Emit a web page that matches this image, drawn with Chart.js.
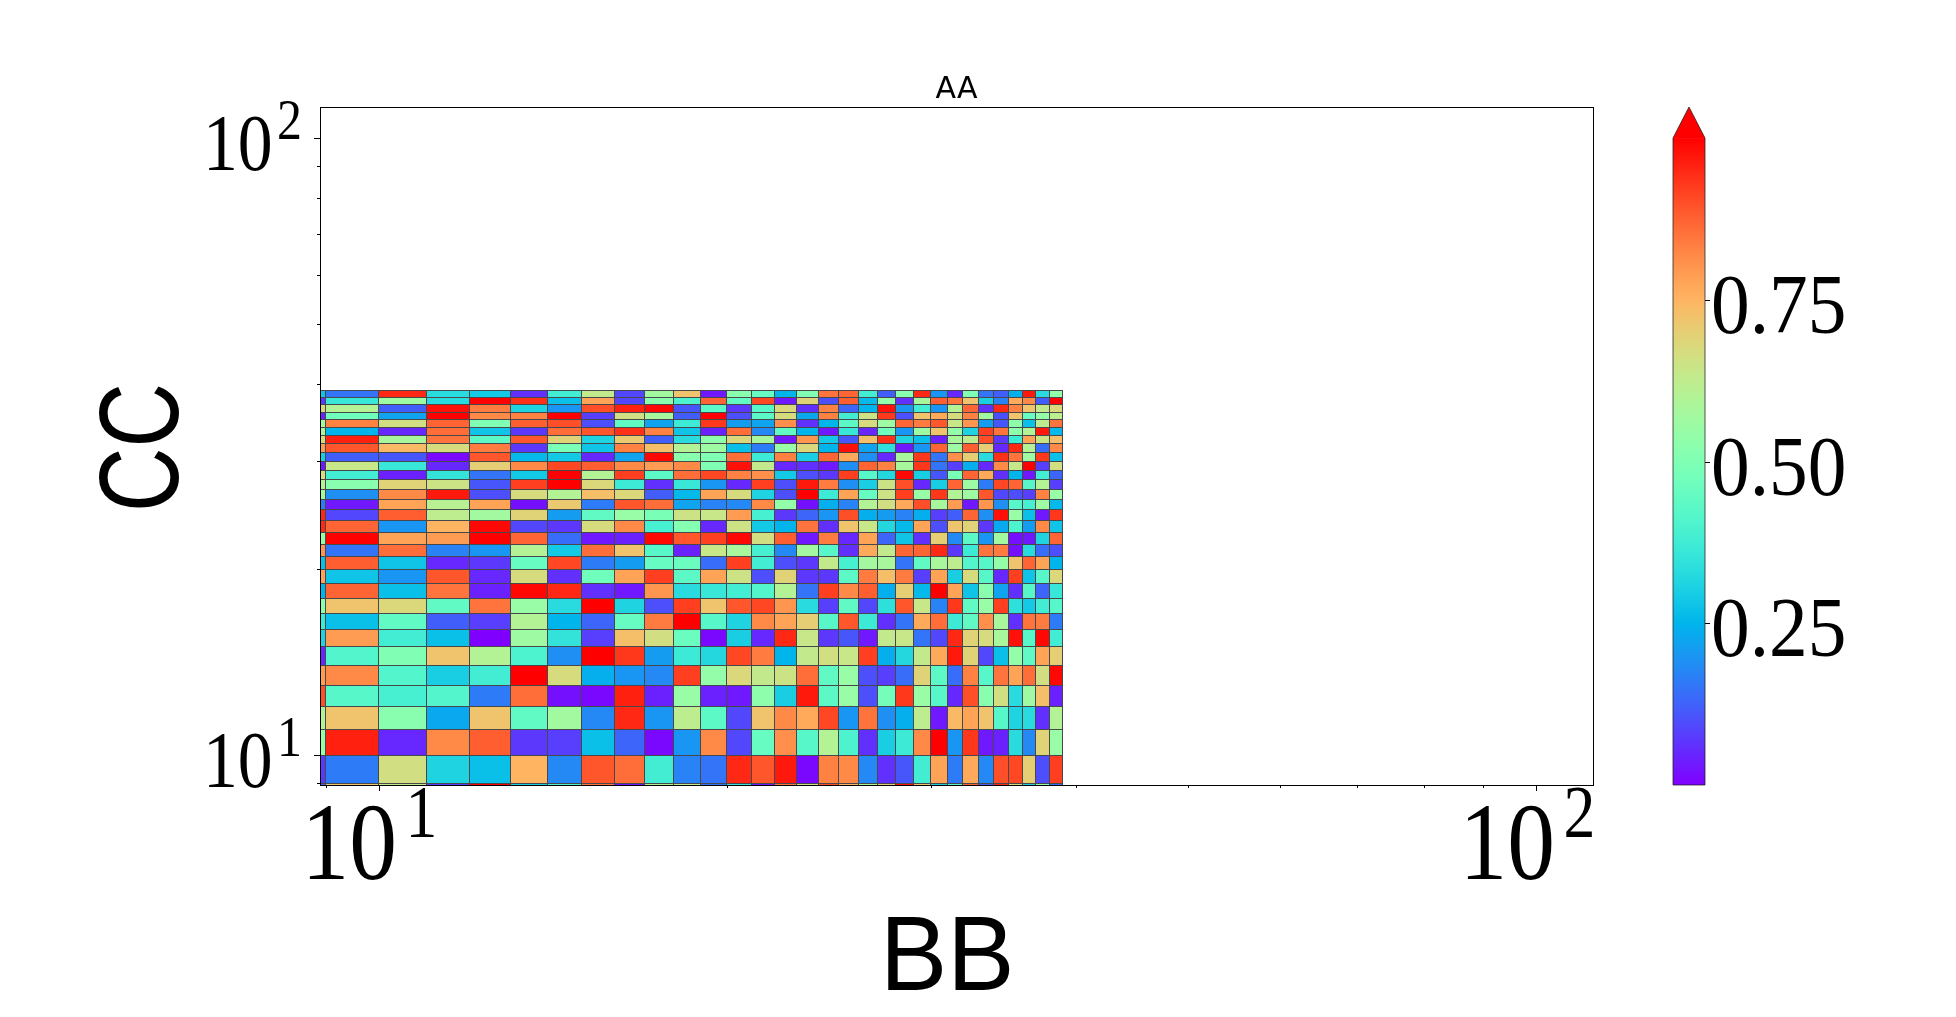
<!DOCTYPE html>
<html>
<head>
<meta charset="utf-8">
<title>AA</title>
<script src="https://cdn.jsdelivr.net/npm/chart.js@4/dist/chart.umd.min.js"></script>
<style>
    html, body { margin: 0; padding: 0; background: #fff; }
    canvas { display: block; }
</style>
</head>
<body>
<canvas id="chart" width="1956" height="1017"></canvas>
<script>
// cell edges, the same integer grid on both axes
const xEdges = [8,9,10,11,12,13,14,15,16,17,18,19,20,21,22,23,24,25,26,27,28,29,30,31,32,33,34,35,36,37,38,39];
const yEdges = [8,9,10,11,12,13,14,15,16,17,18,19,20,21,22,23,24,25,26,27,28,29,30,31,32,33,34,35,36,37,38,39];

// one row per y cell, bottom row first
const cellValues = [
    [.12,.72,.62,.08,1.0,.30,.40,.85,.03,.60,.62,.15,.35,.03,.85,.65,.90,.75,.58,.70,.98,.72,.30,.42,.87,.12,.95,.68,.30,.55,.14],
    [.07,.16,.66,.31,.27,.75,.18,.89,.86,.38,.17,.15,.95,.89,.97,.01,.83,.82,.18,.06,.11,.38,.78,.16,.77,.18,.90,.91,.70,.10,.92],
    [.55,.96,.05,.82,.88,.07,.08,.27,.13,.01,.20,.82,.09,.45,.81,.42,.60,.40,.06,.30,.37,.82,1.0,.20,.93,.03,.04,.33,.18,.69,.55],
    [.60,.72,.52,.23,.72,.44,.57,.18,.95,.20,.62,.43,.09,.72,.82,.77,.91,.20,.85,.19,.24,.62,.03,.74,.78,.72,.42,.31,.33,.06,.60],
    [.90,.42,.39,.41,.16,.86,.02,.01,.96,.04,.55,.04,.03,.53,.30,.97,.43,.55,.10,.48,.93,.55,.42,.05,.90,.52,.66,.33,.56,.73,.04],
    [.79,.82,.41,.30,.38,1.0,.67,.24,.20,.18,.92,.54,.68,.63,.65,.86,.44,.55,.10,.08,.14,.69,.43,.14,.83,.42,.85,.78,.86,.66,.99],
    [.05,.41,.50,.72,.60,.40,.19,1.0,.93,.21,.37,.32,.91,.84,.25,.63,.66,.64,.92,.24,.32,.63,.77,.97,.69,.09,.27,.54,.44,.78,.70],
    [.31,.79,.38,.27,.00,.56,.35,.08,.73,.66,.46,.01,.30,.05,.95,.64,.07,.11,.03,.63,.64,.15,.09,.95,.69,.67,.58,.98,.42,.99,.38],
    [.37,.27,.44,.12,.08,.60,.25,.13,.45,.84,1.0,.42,.31,.82,.78,.70,.42,.89,.37,.06,.15,.77,.86,.37,.44,.81,.58,.06,.85,.84,.16],
    [.53,.72,.68,.44,.85,.55,.33,1.0,.31,.10,.92,.72,.89,.91,.80,.33,.08,.44,.09,.34,.89,.64,.17,.93,.44,.55,.92,.34,.29,.38,.42],
    [.25,.87,.27,.85,.04,.99,.95,.06,.03,.80,.33,.36,.38,.41,.60,.15,.92,.82,.88,.24,.70,.26,1.0,.78,.28,.52,.22,.06,.42,.13,.36],
    [.78,.28,.20,.89,.05,.67,.06,.47,.78,.92,.43,.78,.65,.10,.69,.07,.07,.43,.84,.73,.84,.08,.78,.30,.67,.42,.05,.92,.28,.42,.68],
    [.27,.88,.28,.05,.07,.45,.91,.16,.21,.45,.46,.14,.92,.38,.10,.07,.63,.39,.57,.58,.15,.44,.58,.62,.41,.42,.54,.72,.87,.78,.25],
    [.80,.15,.86,.17,.20,.60,.29,.86,.72,.42,.04,.64,.58,.39,.18,.57,.42,.06,.77,.63,.87,.87,.95,.07,.37,.85,.84,.02,.33,.14,.10],
    [.55,1.0,.78,.79,1.0,.87,.14,.03,.04,.99,.89,.92,.99,.66,.88,.03,.84,.05,.78,.13,.28,.06,.70,.18,.43,.20,.57,.02,.03,.31,.87],
    [.95,.87,.20,.75,.99,.09,.07,.67,.82,.39,.51,.05,.65,.29,.25,.85,.06,.72,.64,.32,.26,.78,.10,.72,.69,.07,.23,.40,.21,.82,.28],
    [.95,.09,.88,.62,.57,.69,.21,.44,.55,.49,.65,.64,.79,.39,.07,.13,.20,.90,.24,.21,.17,.24,.08,.12,.87,.19,.98,.55,.27,.03,.93],
    [.16,.03,.78,.61,.78,.02,.71,.16,.89,.86,.22,.17,.18,.82,.54,.02,.24,.17,.60,.66,.77,.90,.58,.79,.03,.80,.19,.42,.39,.56,.26],
    [.57,.19,.82,.97,.10,.67,.60,.73,.68,.12,.26,.78,.67,.31,.10,1.0,.37,.78,.45,.65,.92,.55,.93,.60,.56,.89,.09,.10,.08,.83,.55],
    [.60,.52,.69,.65,.11,.92,1.0,.68,.37,.06,.36,.20,.05,.92,.10,.97,.84,.19,.30,.65,.90,.05,.30,.87,.56,.16,.91,.87,.42,.60,.08],
    [.66,.38,.04,.35,.15,.29,1.0,.60,.92,.43,.86,.91,.83,.81,.29,.10,.07,.92,.42,.32,.99,.30,.11,.49,.87,.77,.06,.25,.03,.38,.13],
    [.03,.64,.36,.05,.70,.82,.91,.88,.82,.79,.82,.50,.98,.63,.05,.06,.03,.19,.87,.83,.58,.93,.15,.08,.24,.05,.82,.64,1.0,.08,.66],
    [.30,.12,.11,.01,.89,.26,.29,.05,.22,.99,.52,.50,.86,.37,.83,.30,.87,.77,.19,.05,.58,.93,.15,.81,.70,.33,.94,.85,.56,.93,.27],
    [.79,.89,.74,.67,.84,.07,.49,.28,.83,.73,.60,.56,.27,.16,.55,.68,.25,.98,.22,.34,.03,.20,.87,.56,.88,.70,.05,.95,.60,.14,.82],
    [.68,.96,.58,.85,.43,.89,.69,.31,.71,.12,.33,.53,.68,.58,.03,.80,.29,.11,.73,.94,.31,.27,.04,.58,.62,.90,.07,.37,.78,.65,.73],
    [.58,.25,.05,.86,.28,.07,.86,.89,.94,.83,.28,.04,.86,.18,.44,.25,.03,.36,.05,.47,.20,.56,.72,.54,.31,.92,.85,.53,.60,.97,.26],
    [.57,.83,.66,.87,.50,.88,.90,.10,.44,.22,.37,.93,.21,.22,.81,.06,.25,.43,.67,.56,.87,.84,.89,.64,.80,.21,.11,.53,.27,.62,.85],
    [.04,.47,.22,1.0,.82,.83,1.0,.08,.66,.58,.12,1.0,.10,.43,.67,.23,.83,.38,.65,.93,.10,.72,.77,.67,.83,.57,.10,.72,.45,.54,.62],
    [.68,.60,.12,.98,.84,.31,.20,.90,.96,.99,.11,.43,.07,.42,.68,.06,.83,.13,.25,.98,.20,.38,.20,.60,.87,.06,.95,.83,.72,.63,.68],
    [.07,.36,.56,.33,1.0,.94,.27,.78,.09,.52,.40,.87,.44,.91,.03,.69,.10,.88,.26,.54,.06,.58,.88,.85,.72,.30,.17,.77,.82,.12,1.0],
    [.28,.15,.95,.33,.29,.06,.38,.63,.09,.57,.72,.03,.52,.45,.25,.50,.85,.87,.38,.12,.52,.95,.20,.05,.50,.15,.12,.24,.97,.33,.54]
];

// axis ticks
const xMajorTicks = [10, 100];
const yMajorTicks = [10, 100];
const xTickLabels = [['10', '1'], ['10', '2']];
const yTickLabels = [['10', '1'], ['10', '2']];
const minorTicks = [9, 20, 30, 40, 50, 60, 70, 80, 90];

const colorbarTicks = [0.25, 0.5, 0.75];
const colorbarTickLabels = ['0.25', '0.50', '0.75'];

const titleText = 'AA';
const xTitle = 'BB';
const yTitle = 'CC';

const SERIF = '"Liberation Serif", serif';
const SANS = '"Liberation Sans", sans-serif';

// matplotlib's rainbow colormap
function rainbow(v) {
    const r = Math.abs(2 * v - 0.5);
    const g = Math.sin(v * Math.PI);
    const b = Math.cos(v * Math.PI / 2);
    const to255 = c => Math.round(255 * Math.min(1, Math.max(0, c)));
    return `rgb(${to255(r)},${to255(g)},${to255(b)})`;
}

// bar elements placed by both edges, there is no matrix chart in Chart.js
class CellController extends Chart.BarController {
    updateElements(bars, start, count, mode) {
        const xScale = this.chart.scales.x;
        const yScale = this.chart.scales.y;
        const cells = this.getDataset().data;
        for (let i = start; i < start + count; i++) {
            const cell = cells[i];
            // whole pixels, otherwise white seams show between the cells
            const left = Math.round(xScale.getPixelForValue(cell.x));
            const right = Math.round(xScale.getPixelForValue(cell.x1));
            this.updateElement(bars[i], i, {
                horizontal: false,
                x: (left + right) / 2,
                width: right - left,
                y: Math.round(yScale.getPixelForValue(cell.y[1])),
                base: Math.round(yScale.getPixelForValue(cell.y[0])),
                borderSkipped: {},
                enableBorderRadius: false,
                inflateAmount: 0,
                options: this.resolveDataElementOptions(i, mode)
            }, mode);
        }
    }
}
CellController.id = 'cells';
Chart.register(CellController);

// text narrowed on x the way the picture has it
function drawText(ctx, text, x, y, size, family, squeeze, rotate) {
    ctx.save();
    ctx.translate(x, y);
    if (rotate) ctx.rotate(-Math.PI / 2);
    ctx.scale(squeeze, 1);
    ctx.font = `${size}px ${family}`;
    ctx.textAlign = 'left';
    ctx.textBaseline = 'alphabetic';
    ctx.fillStyle = '#000';
    ctx.fillText(text, 0, 0);
    ctx.restore();
}

const axesPlugin = {
    id: 'axesPlugin',
    afterDatasetsDraw(chart) {
        const { ctx, chartArea: area, scales } = chart;
        const xScale = scales.x;
        const yScale = scales.y;
        const cbScale = scales.colorbar;

        ctx.save();
        ctx.strokeStyle = '#000';
        ctx.lineWidth = 1;
        ctx.strokeRect(Math.round(area.left) + 0.5, Math.round(area.top) + 0.5,
            Math.round(area.width), Math.round(area.height));

        const mark = (x0, y0, x1, y1) => {
            ctx.beginPath();
            ctx.moveTo(x0, y0);
            ctx.lineTo(x1, y1);
            ctx.stroke();
        };
        xMajorTicks.forEach(v => {
            const px = Math.round(xScale.getPixelForValue(v)) + 0.5;
            mark(px, area.bottom, px, area.bottom + 6);
        });
        yMajorTicks.forEach(v => {
            const py = Math.round(yScale.getPixelForValue(v)) + 0.5;
            mark(area.left, py, area.left - 6, py);
        });
        minorTicks.forEach(v => {
            const px = Math.round(xScale.getPixelForValue(v)) + 0.5;
            const py = Math.round(yScale.getPixelForValue(v)) + 0.5;
            mark(px, area.bottom, px, area.bottom + 3);
            mark(area.left, py, area.left - 3, py);
        });

        // colorbar
        const cbLeft = 1673;
        const cbRight = 1705;
        const cbTop = cbScale.getPixelForValue(1);
        const cbBottom = cbScale.getPixelForValue(0);
        const gradient = ctx.createLinearGradient(0, cbBottom, 0, cbTop);
        for (let i = 0; i <= 64; i++) gradient.addColorStop(i / 64, rainbow(i / 64));
        ctx.fillStyle = gradient;
        ctx.fillRect(cbLeft, cbTop, cbRight - cbLeft, cbBottom - cbTop);
        ctx.fillStyle = rainbow(1);
        ctx.beginPath();
        ctx.moveTo(cbLeft, cbTop);
        ctx.lineTo((cbLeft + cbRight) / 2, area.top);
        ctx.lineTo(cbRight, cbTop);
        ctx.closePath();
        ctx.fill();
        ctx.strokeStyle = 'rgba(30,30,30,0.75)';
        ctx.beginPath();
        ctx.moveTo(cbLeft, cbBottom);
        ctx.lineTo(cbLeft, cbTop);
        ctx.lineTo((cbLeft + cbRight) / 2, area.top);
        ctx.lineTo(cbRight, cbTop);
        ctx.lineTo(cbRight, cbBottom);
        ctx.closePath();
        ctx.stroke();
        ctx.strokeStyle = '#000';
        colorbarTicks.forEach((v, i) => {
            const py = Math.round(cbScale.getPixelForValue(v)) + 0.5;
            mark(cbRight, py, cbRight + 5, py);
            drawText(ctx, colorbarTickLabels[i], cbRight + 6, py + 32, 85, SERIF, 0.91);
        });
        ctx.restore();

        // tick labels
        xMajorTicks.forEach((v, i) => {
            const px = xScale.getPixelForValue(v);
            drawText(ctx, xTickLabels[i][0], px - 77, area.bottom + 94, 111, SERIF, 0.86);
            drawText(ctx, xTickLabels[i][1], px + 27, area.bottom + 52, 74, SERIF, 0.86);
        });
        yMajorTicks.forEach((v, i) => {
            const py = yScale.getPixelForValue(v);
            drawText(ctx, yTickLabels[i][0], area.left - 117, py + 32, 81, SERIF, 0.86);
            drawText(ctx, yTickLabels[i][1], area.left - 43, py + 1, 58, SERIF, 0.86);
        });

        // axis titles
        drawText(ctx, xTitle, 880, 990, 105, SANS, 0.96);
        drawText(ctx, yTitle, 178, 512, 113, SANS, 0.79, true);
    }
};

const datasets = cellValues.map((row, r) => ({
    data: row.map((v, c) => ({ x: xEdges[c], x1: xEdges[c + 1], y: [yEdges[r], yEdges[r + 1]], v: v })),
    backgroundColor: ctx => rainbow(ctx.raw.v),
    borderColor: 'rgb(70,72,76)',
    borderWidth: { top: 1, right: 1, bottom: 0, left: 0 }
}));

new Chart(document.getElementById('chart').getContext('2d'), {
    type: 'cells',
    data: { datasets: datasets },
    plugins: [axesPlugin],
    options: {
        responsive: false,
        animation: false,
        events: [],
        layout: { padding: { left: 320, right: 363, top: 75, bottom: 232 } },
        plugins: {
            legend: { display: false },
            tooltip: { enabled: false },
            title: {
                display: true,
                text: titleText,
                color: '#000',
                font: { family: '"DejaVu Sans", sans-serif', size: 30, weight: 'normal', lineHeight: 1 },
                padding: { top: 0, bottom: 2 }
            }
        },
        scales: {
            x: {
                type: 'logarithmic',
                min: 8.9,
                max: 111.9,
                grid: { display: false, drawTicks: false },
                border: { display: false },
                ticks: { display: false }
            },
            y: {
                type: 'logarithmic',
                min: 8.94,
                max: 112.3,
                grid: { display: false, drawTicks: false },
                border: { display: false },
                ticks: { display: false }
            },
            // only there to place the colorbar, 1.048 leaves room for the arrow tip
            colorbar: {
                axis: 'y',
                type: 'linear',
                display: false,
                min: 0,
                max: 1.048
            }
        }
    }
});
</script>
</body>
</html>
